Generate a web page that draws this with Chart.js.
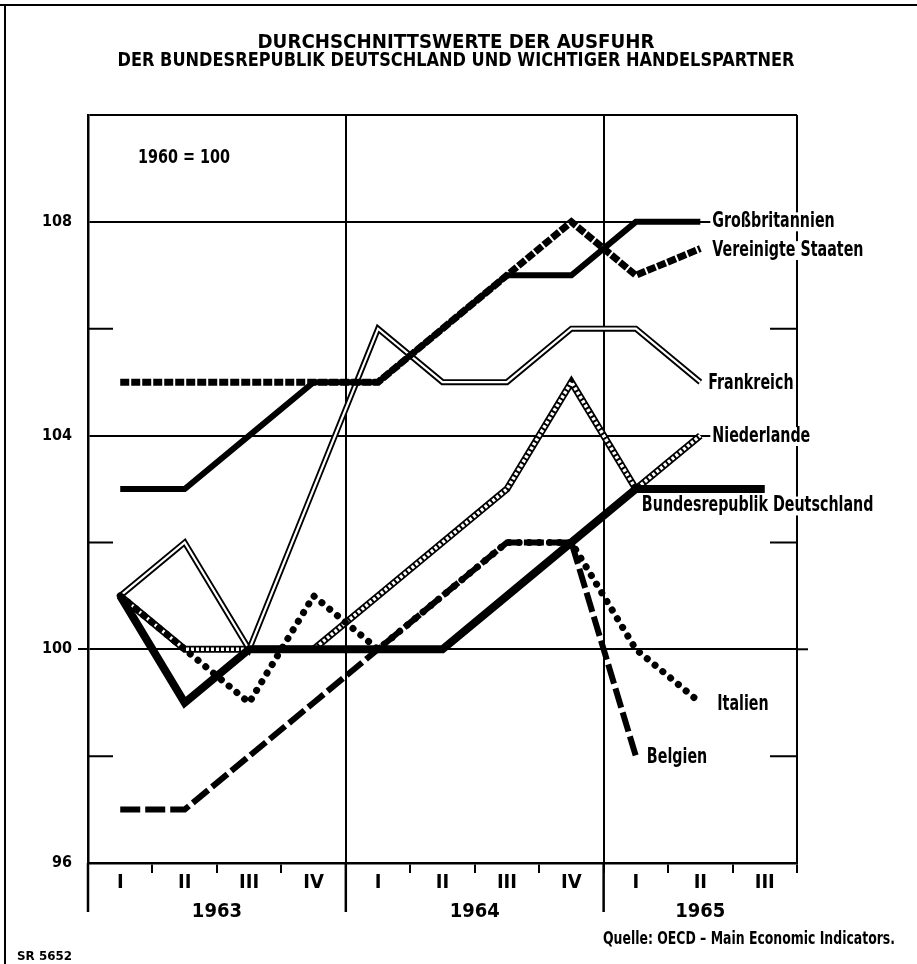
<!DOCTYPE html>
<html><head><meta charset="utf-8">
<script src="https://cdn.jsdelivr.net/npm/chart.js@4.4.1/dist/chart.umd.min.js"></script>
<style>html,body{margin:0;padding:0;background:#fff;}canvas{display:block;}</style>
</head><body>
<canvas id="c" width="917" height="964"></canvas>
<script>
// ---------- data ----------
const quarters = ['I','II','III','IV','I','II','III','IV','I','II','III'];
const quarterYear = ['1963','1963','1963','1963','1964','1964','1964','1964','1965','1965','1965'];
const yLabelled = [96,100,104,108];
const grossbritannien  = [103,103,104,105,105,106,107,107,108,108,null];
const vereinigteStaaten= [105,105,105,105,105,106,107,108,107,107.5,null];
const frankreich       = [101,102,100,103,106,105,105,106,106,105,null];
const niederlande      = [101,100,100,100,101,102,103,105,103,104,null];
const bundesrepublik   = [101,99,100,100,100,100,101,102,103,103,103];
const italien          = [101,100,99,101,100,101,102,102,100,99,null];
const belgien          = [97,97,98,99,100,101,102,102,98,null,null];
const titleLines = ['DURCHSCHNITTSWERTE DER AUSFUHR','DER BUNDESREPUBLIK DEUTSCHLAND UND WICHTIGER HANDELSPARTNER'];

// ---------- derived ----------
const yearNames = [...new Set(quarterYear)];
const yearCenters = yearNames.map(y=>{const idx=quarterYear.map((q,i)=>q===y?i:-1).filter(i=>i>=0);return (idx[0]+idx[idx.length-1])/2;});
const yearStarts = yearNames.map(y=>quarterYear.indexOf(y));

const FAM = "'DejaVu Sans Condensed','DejaVu Sans',sans-serif";
const K = '#000';

function drawFit(c, text, x, y, size, opt){
  c.font = 'bold '+size+'px '+FAM;
  const w = c.measureText(text).width;
  const s = opt.width ? opt.width / w : (opt.sx || 1);
  const align = opt.align || 'left';
  const ww = w*s;
  const left = align==='center' ? x-ww/2 : x;
  if(opt.bg){ c.fillStyle='#fff'; c.fillRect(left-2, y-size*0.45, ww+4, size*0.9); }
  c.save(); c.fillStyle=K; c.textBaseline='middle'; c.textAlign='left';
  c.translate(left, y); c.scale(s,1); c.fillText(text,0,0); c.restore();
}

const decor = {
  id:'decor',
  beforeDraw(chart){
    const c=chart.ctx; c.save(); c.fillStyle='#fff'; c.fillRect(0,0,chart.width,chart.height); c.restore();
  },
  afterDatasetsDraw(chart){
    const c=chart.ctx;
    c.save();
    chart.data.datasets.forEach((ds,i)=>{
      if(!ds.endLabel) return;
      const p = chart.getDatasetMeta(i).data[ds.endLabel.index];
      drawFit(c, ds.label, p.x + ds.endLabel.dx, p.y + ds.endLabel.dy, 21, {sx:0.755, bg:true});
    });
    c.restore();
  },
  afterDraw(chart){
    const c=chart.ctx, a=chart.chartArea, xs=chart.scales.x, ys=chart.scales.y;
    c.save();
    c.strokeStyle=K; c.fillStyle=K;
    // page frame
    c.lineWidth=2;
    c.beginPath(); c.moveTo(0,5); c.lineTo(chart.width,5); c.moveTo(5,5); c.lineTo(5,chart.height); c.stroke();
    // minor y ticks inside both edges
    ys.ticks.forEach(t=>{
      if(yLabelled.includes(t.value) || t.value===ys.max || t.value===ys.min) return;
      const py=ys.getPixelForValue(t.value);
      c.beginPath(); c.moveTo(a.left,py); c.lineTo(a.left+25,py); c.moveTo(a.right-27,py); c.lineTo(a.right,py); c.stroke();
    });
    // 100 line extends past right edge
    const p100=ys.getPixelForValue(100);
    c.beginPath(); c.moveTo(a.right,p100); c.lineTo(a.right+11,p100); c.stroke();
    // year separators below axis
    const half=(xs.getPixelForValue(1)-xs.getPixelForValue(0))/2;
    c.lineWidth=2.5;
    yearStarts.forEach(i=>{
      const px=xs.getPixelForValue(i)-half;
      c.beginPath(); c.moveTo(px,a.bottom); c.lineTo(px,a.bottom+49); c.stroke();
    });
    // title
    drawFit(c, titleLines[0], 456, 43, 20, {width:397, align:'center'});
    drawFit(c, titleLines[1], 456, 61, 20, {width:677, align:'center'});
    // base note
    drawFit(c, '1960 = 100', a.left+50, 158, 20, {width:92});
    // footer
    drawFit(c, 'Quelle: OECD \u2013 Main Economic Indicators.', 603, 940, 17, {width:292});
    drawFit(c, 'SR 5652', 17, 957, 13, {width:55});
    c.restore();
  }
};

const common = {pointRadius:0, tension:0, fill:false, borderCapStyle:'butt', borderJoinStyle:'miter', spanGaps:false};

new Chart(document.getElementById('c'), {
  type:'line',
  data:{
    labels: quarters,
    datasets:[
      {...common, label:'Großbritannien', data:grossbritannien, borderColor:K, borderWidth:6, order:5,
        endLabel:{index:9, dx:12, dy:0}},
      {...common, label:'Vereinigte Staaten', data:vereinigteStaaten, borderColor:K, borderWidth:7, borderDash:[9,2], order:6,
        endLabel:{index:9, dx:12, dy:2}},
      {...common, label:'Frankreich', data:frankreich, borderColor:K, borderWidth:6, order:21,
        endLabel:{index:9, dx:8, dy:1}},
      {...common, label:'', data:frankreich, borderColor:'#fff', borderWidth:2.2, order:20},
      {...common, label:'Niederlande', data:niederlande, borderColor:K, borderWidth:7, order:31,
        endLabel:{index:9, dx:12, dy:1}},
      {...common, label:'', data:niederlande, borderColor:'#fff', borderWidth:3.5, borderDash:[3,2], order:30},
      {...common, label:'Bundesrepublik Deutschland', data:bundesrepublik, borderColor:K, borderWidth:8, order:1,
        endLabel:{index:8, dx:6, dy:17}},
      {...common, label:'Italien', data:italien, borderColor:K, borderWidth:7, borderDash:[0.1,10], borderCapStyle:'round', order:3,
        endLabel:{index:9, dx:17, dy:2}},
      {...common, label:'Belgien', data:belgien, borderColor:K, borderWidth:6, borderDash:[20,5], order:4,
        endLabel:{index:8, dx:11, dy:1}}
    ]
  },
  options:{
    responsive:false, animation:false, devicePixelRatio:1,
    layout:{padding:{top:115,left:0,right:120,bottom:41}},
    plugins:{legend:{display:false}, tooltip:{enabled:false}, title:{display:false}},
    scales:{
      x:{type:'category', position:'bottom', offset:true,
        grid:{offset:true, lineWidth:2, tickLength:10, tickColor:K,
          color:c=>(c.type!=='tick' || yearStarts.includes(c.index)) ? K : 'rgba(0,0,0,0)'},
        border:{display:true, color:K, width:2.5},
        ticks:{color:K, font:{family:FAM, size:20, weight:'bold', lineHeight:1}, padding:0, maxRotation:0, autoSkip:false},
        afterFit:s=>{s.height=30;}
      },
      years:{type:'linear', axis:'x', position:'bottom', min:-0.5, max:10.5,
        grid:{display:false}, border:{display:false},
        afterBuildTicks:s=>{s.ticks=yearCenters.map(v=>({value:v}));},
        ticks:{color:K, font:{family:FAM, size:20, weight:'bold', lineHeight:1}, padding:1, maxRotation:0, autoSkip:false,
          callback:(v)=>{const i=yearCenters.indexOf(v); return i>=0?yearNames[i]:'';}},
        afterFit:s=>{s.height=30;}
      },
      y:{min:96, max:110,
        grid:{lineWidth:2, tickLength:10,
          color:c=>(c.tick && (yLabelled.includes(c.tick.value) && c.tick.value!==96 || c.tick.value===110)) ? K : 'rgba(0,0,0,0)',
          tickColor:c=>(c.tick && c.tick.value===100) ? K : 'rgba(0,0,0,0)'},
        border:{display:true, color:K, width:2.5},
        ticks:{stepSize:2, color:K, padding:6, font:{family:FAM, size:16, weight:'bold'},
          callback:v=>yLabelled.includes(v)?String(v):''},
        afterFit:s=>{s.width=88;}
      }
    }
  },
  plugins:[decor]
});
</script>
</body></html>
